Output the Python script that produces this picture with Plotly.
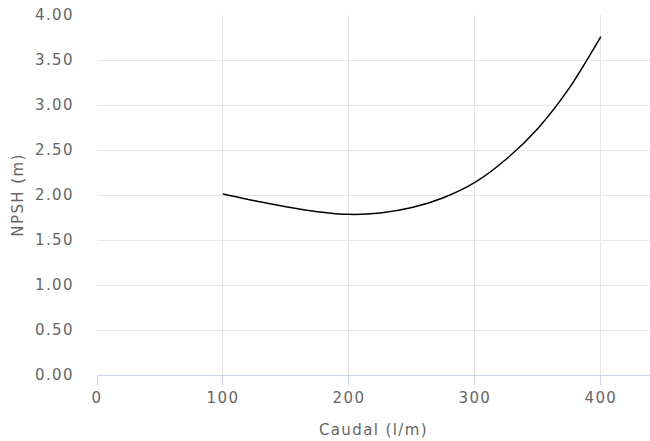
import plotly.graph_objects as go

caudal = [100, 125, 150, 175, 200, 225, 250, 275, 300, 325, 350, 375, 400]
npsh = [2.01, 1.935, 1.87, 1.815, 1.785, 1.80, 1.86, 1.97, 2.14, 2.40, 2.74, 3.19, 3.76]

x_ticks = [0, 100, 200, 300, 400]
y_ticks = [0, 0.5, 1.0, 1.5, 2.0, 2.5, 3.0, 3.5, 4.0]

FONT = "DejaVu Sans"
TXT = "#666666"
FS = 15

fig = go.Figure()
fig.add_trace(go.Scatter(
    x=caudal, y=npsh, mode="lines",
    line=dict(color="#000000", width=1.5, shape="spline", smoothing=0.8),
    hoverinfo="skip", showlegend=False,
))

fig.update_layout(
    width=650, height=441,
    margin=dict(l=97, r=0, t=15, b=66),
    paper_bgcolor="white", plot_bgcolor="white",
    font=dict(family=FONT, color=TXT, size=FS),
    xaxis=dict(
        range=[0, 439], tickvals=x_ticks, ticktext=[str(v) for v in x_ticks],
        showgrid=True, gridcolor="#e6e6e6", gridwidth=1,
        showline=True, linecolor="#ccd6eb", linewidth=1,
        ticks="outside", ticklen=9, tickcolor="#ccd6eb", tickwidth=1,
        zeroline=False, automargin=False, tickfont=dict(size=FS, color=TXT),
        title=dict(text="Caudal (l/m)", font=dict(size=FS, color=TXT), standoff=18),
    ),
    yaxis=dict(
        range=[0, 4], tickvals=y_ticks, ticktext=[f"{v:.2f}" for v in y_ticks],
        showgrid=True, gridcolor="#e6e6e6", gridwidth=1,
        showline=False, zeroline=False, ticks="", automargin=False,
        ticklabelstandoff=22, tickfont=dict(size=FS, color=TXT),
        title=dict(text="NPSH (m)", font=dict(size=FS, color=TXT), standoff=13),
    ),
)

css_js = (
    "var s=document.createElement('style');"
    "s.textContent='html,body{margin:0;padding:0;} .main-svg text{letter-spacing:1.4px;}';"
    "document.head.appendChild(s);"
)
fig.write_html("out.html", post_script=css_js, config={"displayModeBar": False})
